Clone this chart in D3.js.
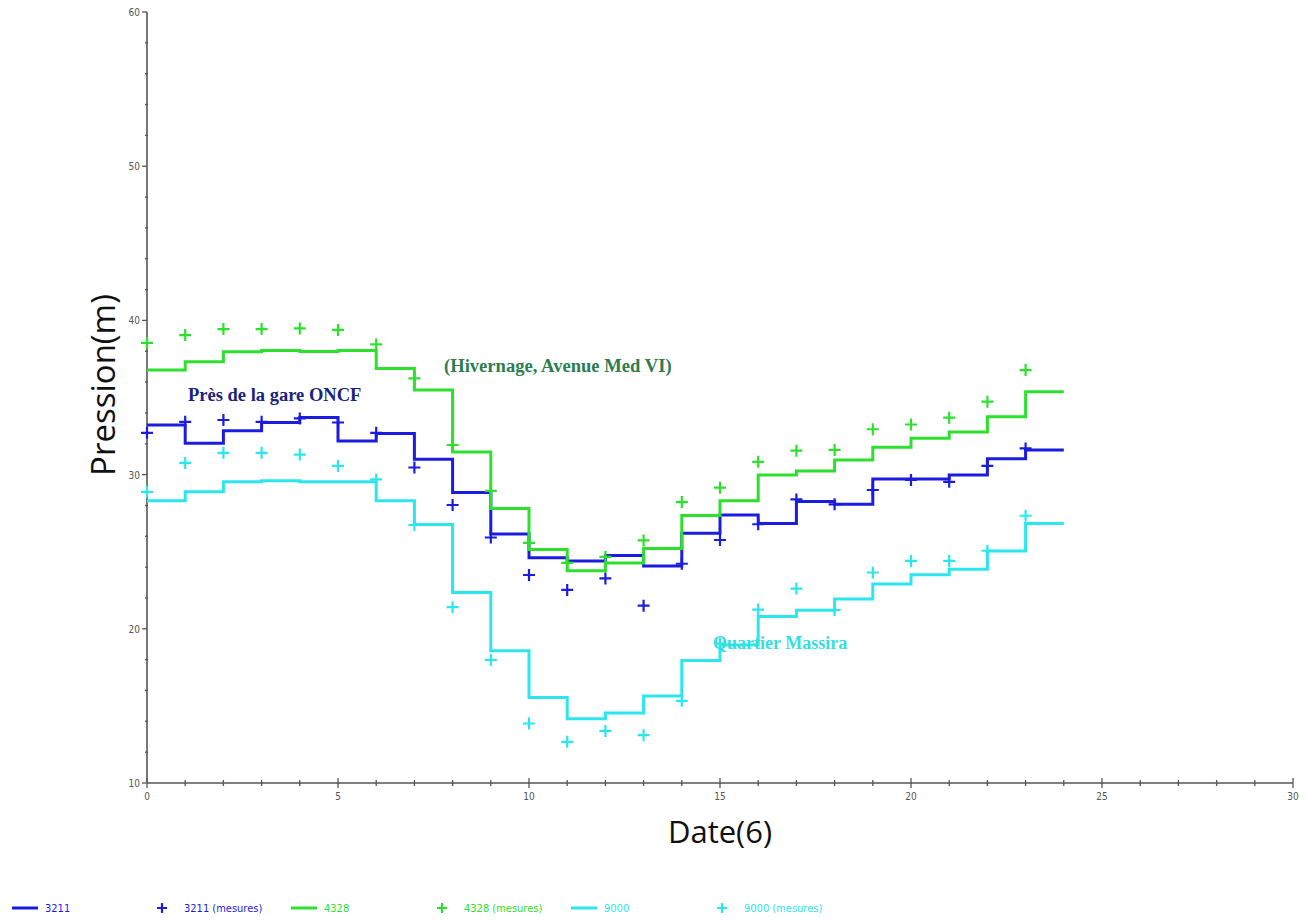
<!DOCTYPE html>
<html><head><meta charset="utf-8">
<script src="https://cdn.jsdelivr.net/npm/d3@7"></script>
<style>body{margin:0;background:#fff}svg{display:block}</style>
</head><body>
<svg id="chart" width="1306" height="921"></svg>
<script>
const hours = d3.range(0, 24);
const sim3211 = [33.22,32.03,32.85,33.38,33.7,32.18,32.67,31.0,28.84,26.15,24.6,24.4,24.75,24.07,26.2,27.38,26.83,28.25,28.07,29.71,29.71,29.97,31.03,31.6];
const sim4328 = [36.78,37.32,37.97,38.05,37.98,38.05,36.88,35.48,31.47,27.8,25.14,23.76,24.27,25.2,27.35,28.3,29.97,30.23,30.95,31.77,32.35,32.76,33.75,35.38];
const sim9000 = [28.3,28.88,29.53,29.6,29.53,29.53,28.3,26.77,22.35,18.57,15.54,14.17,14.54,15.65,17.95,18.95,20.8,21.2,21.93,22.9,23.5,23.86,25.05,26.83];
const mes3211 = [32.71,33.42,33.54,33.42,33.64,33.38,32.71,30.46,28.03,25.92,23.49,22.52,23.27,21.5,24.22,25.76,26.78,28.39,28.07,29.0,29.65,29.53,30.56,31.7];
const mes4328 = [38.54,39.05,39.44,39.44,39.48,39.38,38.44,36.24,31.92,28.95,25.57,24.27,24.66,25.73,28.22,29.15,30.83,31.55,31.6,32.94,33.25,33.69,34.73,36.78];
const mes9000 = [28.88,30.76,31.41,31.41,31.3,30.56,29.69,26.73,21.4,17.98,13.86,12.67,13.38,13.1,15.33,19.06,21.25,22.61,21.22,23.65,24.4,24.4,25.06,27.33];
const seriesNames = ["3211","4328","9000"];
const yTickLabels = ["10","20","30","40","50","60"];
const xTickLabels = ["0","5","10","15","20","25","30"];

const colors = {"3211":"#1c1ce0","4328":"#2ee02e","9000":"#2ce6ee"};
const svg = d3.select("#chart");
const x = d3.scaleLinear().domain([0,30]).range([147,1293]);
const y = d3.scaleLinear().domain([10,60]).range([783,12]);

// axes
const axisColor = "#555";
const g = svg.append("g");
g.append("line").attr("x1",x(0)).attr("x2",x(30)).attr("y1",y(10)).attr("y2",y(10)).attr("stroke",axisColor).attr("stroke-width",1.6);
g.append("line").attr("x1",x(0)).attr("x2",x(0)).attr("y1",y(10)).attr("y2",y(60)).attr("stroke",axisColor).attr("stroke-width",1.6);
// x ticks
d3.range(0,31).forEach(v=>{
  const major = v%5===0;
  g.append("line").attr("x1",x(v)).attr("x2",x(v)).attr("y1",y(10)-(major?5:3)).attr("y2",y(10)+(major?5:3)).attr("stroke",axisColor).attr("stroke-width",1.3);
});
xTickLabels.forEach(t=>{
  g.append("text").attr("x",x(+t)).attr("y",y(10)+17).attr("text-anchor","middle").attr("font-family","Liberation Sans Narrow, DejaVu Sans Condensed, sans-serif").attr("font-size",10).attr("fill","#555").text(t);
});
// y ticks
d3.range(10,61,2).forEach(v=>{
  const major = v%10===0;
  g.append("line").attr("x1",x(0)-(major?5:2)).attr("x2",x(0)+(major?0:1)).attr("y1",y(v)).attr("y2",y(v)).attr("stroke",axisColor).attr("stroke-width",1.3);
});
yTickLabels.forEach(t=>{
  g.append("text").attr("x",x(0)-7).attr("y",y(+t)+4).attr("text-anchor","end").attr("font-family","Liberation Sans Narrow, DejaVu Sans Condensed, sans-serif").attr("font-size",10).attr("fill","#555").text(t);
});

// step lines
const stepLine = d3.line().x(d=>x(d[0])).y(d=>y(d[1])).curve(d3.curveStepAfter);
function stepData(vals){ const pts = hours.map((h,i)=>[h, vals[i]]); pts.push([hours[hours.length-1]+1, vals[vals.length-1]]); return pts; }
const sims = {"3211":sim3211,"4328":sim4328,"9000":sim9000};
const mes = {"3211":mes3211,"4328":mes4328,"9000":mes9000};
seriesNames.forEach(n=>{
  svg.append("path").attr("d",stepLine(stepData(sims[n]))).attr("fill","none").attr("stroke",colors[n]).attr("stroke-width",3);
});
// markers
const plus = (sel, cx, cy, s, col) => {
  sel.append("path").attr("d",`M${cx-s},${cy}H${cx+s}M${cx},${cy-s}V${cy+s}`).attr("stroke",col).attr("stroke-width",2.2).attr("fill","none");
};
seriesNames.forEach(n=>{
  const gm = svg.append("g");
  mes[n].forEach((v,i)=>plus(gm, x(hours[i]), y(v), 6, colors[n]));
});

// annotations
const serif = "Liberation Serif, Times New Roman, serif";
svg.append("text").attr("x",188).attr("y",401).attr("font-family",serif).attr("font-weight","bold").attr("font-size",18.5).attr("fill","#1a237e").text("Près de la gare ONCF");
svg.append("text").attr("x",444).attr("y",372).attr("font-family",serif).attr("font-weight","bold").attr("font-size",18.6).attr("fill","#2e7d4f").text("(Hivernage, Avenue Med VI)");
svg.append("text").attr("x",713).attr("y",649).attr("font-family",serif).attr("font-weight","bold").attr("font-size",18).attr("fill","#36dede").text("Quartier Massira");

// axis titles
svg.append("text").attr("transform","translate(115,385) rotate(-90)").attr("text-anchor","middle").attr("font-family","Open Sans, Liberation Sans, sans-serif").attr("font-size",33).attr("fill","#111").text("Pression(m)");
svg.append("text").attr("x",720).attr("y",843).attr("text-anchor","middle").attr("font-family","Open Sans, Liberation Sans, sans-serif").attr("font-size",31).attr("fill","#111").text("Date(6)");

// legend
const legendItems = [
  {name:"3211", type:"line", x:12},
  {name:"3211", type:"plus", x:162, label:"3211 (mesures)"},
  {name:"4328", type:"line", x:291},
  {name:"4328", type:"plus", x:442, label:"4328 (mesures)"},
  {name:"9000", type:"line", x:571},
  {name:"9000", type:"plus", x:722, label:"9000 (mesures)"}
];
const ly = 908;
legendItems.forEach(it=>{
  const c = colors[it.name];
  if(it.type==="line"){
    svg.append("line").attr("x1",it.x).attr("x2",it.x+26).attr("y1",ly).attr("y2",ly).attr("stroke",c).attr("stroke-width",3);
    svg.append("text").attr("x",it.x+33).attr("y",ly+4).attr("font-family","Liberation Sans Narrow, DejaVu Sans Condensed, sans-serif").attr("font-size",11).attr("fill",c).text(it.name);
  } else {
    plus(svg, it.x, ly, 5, c);
    svg.append("text").attr("x",it.x+22).attr("y",ly+4).attr("font-family","Liberation Sans Narrow, DejaVu Sans Condensed, sans-serif").attr("font-size",11).attr("fill",c).text(it.label);
  }
});
</script>
</body></html>
